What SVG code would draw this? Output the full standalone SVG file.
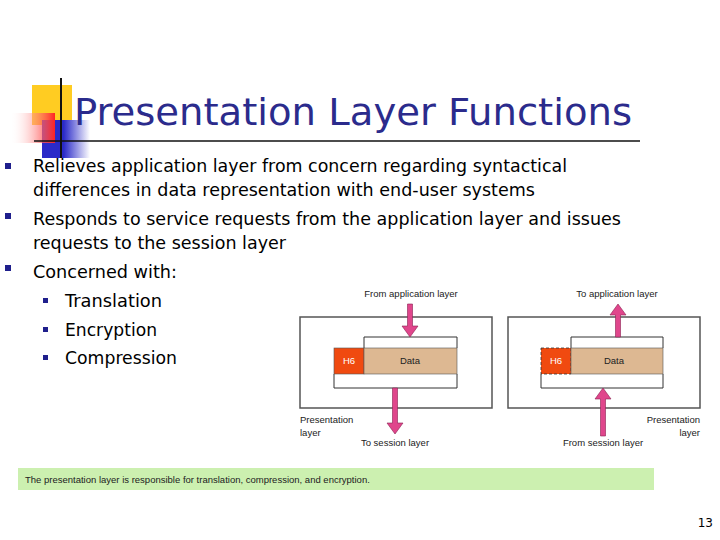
<svg xmlns="http://www.w3.org/2000/svg" width="720" height="540" viewBox="0 0 720 540">
<defs>
<linearGradient id="red" x1="0" x2="1"><stop offset="0" stop-color="#fff" stop-opacity="0"/><stop offset="1" stop-color="#f22"/></linearGradient>
<linearGradient id="blue" x1="0" x2="1"><stop offset="0" stop-color="#2a2ac8"/><stop offset="0.45" stop-color="#2a2ac8"/><stop offset="1" stop-color="#fff"/></linearGradient>
</defs>
<style>
.t{font-family:Tahoma,"DejaVu Sans",sans-serif;fill:#000}
.b{font-size:18px}
.s{font-family:"Liberation Sans Narrow","Liberation Sans",sans-serif;font-size:9.5px;fill:#222}
.box{fill:#fff;stroke:#555;stroke-width:1.5}
.br{fill:none;stroke:#333;stroke-width:1}
.arr{fill:#e0468c;stroke:#8a2050;stroke-width:0.6}
.bul{fill:#1f1f8c}
</style>
<rect width="720" height="540" fill="#fff"/>
<g id="logo">
<rect x="32" y="85" width="40" height="40" fill="#ffcc22"/>
<rect x="42" y="120" width="48" height="38" fill="url(#blue)"/>
<rect x="10" y="113" width="45" height="30" fill="url(#red)"/>
<line x1="61" y1="78" x2="61" y2="158" stroke="#111" stroke-width="2"/>
<line x1="34" y1="141" x2="640" y2="141" stroke="#111" stroke-width="1.5"/>
</g>
<text class="t" x="74" y="125" font-size="38" textLength="558" lengthAdjust="spacingAndGlyphs" style="fill:#2b2b8c">Presentation Layer Functions</text>
<g id="bullets">
<rect class="bul" x="5" y="163" width="6" height="6"/>
<rect class="bul" x="5" y="213" width="6" height="6"/>
<rect class="bul" x="5" y="265" width="6" height="6"/>
<rect class="bul" x="43" y="298" width="5" height="5"/>
<rect class="bul" x="43" y="327" width="5" height="5"/>
<rect class="bul" x="43" y="355" width="5" height="5"/>
<text class="t b" x="33" y="172" textLength="534" lengthAdjust="spacingAndGlyphs">Relieves application layer from concern regarding syntactical</text>
<text class="t b" x="33" y="196" textLength="502" lengthAdjust="spacingAndGlyphs">differences in data representation with end-user systems</text>
<text class="t b" x="33" y="225" textLength="588" lengthAdjust="spacingAndGlyphs">Responds to service requests from the application layer and issues</text>
<text class="t b" x="33" y="249" textLength="253" lengthAdjust="spacingAndGlyphs">requests to the session layer</text>
<text class="t b" x="33" y="278" textLength="144" lengthAdjust="spacingAndGlyphs">Concerned with:</text>
<text class="t b" x="65" y="307" textLength="97" lengthAdjust="spacingAndGlyphs">Translation</text>
<text class="t b" x="65" y="336" textLength="92" lengthAdjust="spacingAndGlyphs">Encryption</text>
<text class="t b" x="65" y="364" textLength="112" lengthAdjust="spacingAndGlyphs">Compression</text>
</g>
<g id="left-panel">
<rect class="box" x="300" y="317" width="192" height="91"/>
<path class="br" d="M364 348V337H457V348M334 374V388H457V374"/>
<rect x="334" y="348" width="30" height="26" fill="#f04a10" stroke="#555" stroke-width="0.6"/>
<rect x="364" y="348" width="93" height="26" fill="#ddb892" stroke="#555" stroke-width="0.6"/>
<text class="s" x="349" y="364" text-anchor="middle" style="fill:#fff">H6</text>
<text class="s" x="410" y="364" text-anchor="middle">Data</text>
<text class="s" x="411" y="297" text-anchor="middle">From application layer</text>
<text class="s" x="300" y="423">Presentation</text>
<text class="s" x="300" y="436">layer</text>
<text class="s" x="395" y="446" text-anchor="middle">To session layer</text>
</g>
<g id="right-panel">
<rect class="box" x="508" y="317" width="192" height="91"/>
<path class="br" d="M571 348V337H663V348M541 374V388H663V374"/>
<rect x="541" y="348" width="30" height="26" fill="#f04a10" stroke="#333" stroke-width="0.8" stroke-dasharray="3,2"/>
<rect x="571" y="348" width="92" height="26" fill="#ddb892" stroke="#555" stroke-width="0.6"/>
<text class="s" x="556" y="364" text-anchor="middle" style="fill:#fff">H6</text>
<text class="s" x="614" y="364" text-anchor="middle">Data</text>
<text class="s" x="617" y="297" text-anchor="middle">To application layer</text>
<text class="s" x="700" y="423" text-anchor="end">Presentation</text>
<text class="s" x="700" y="436" text-anchor="end">layer</text>
<text class="s" x="603" y="446" text-anchor="middle">From session layer</text>
</g>
<g id="connectors">
<path class="arr" d="M407.5 304H412.5V326H418L410 337L402 326H407.5Z"/>
<path class="arr" d="M392.5 388H397.5V423H403L395 434L387 423H392.5Z"/>
<path class="arr" d="M615.5 337H620.5V315H626L618 304L610 315H615.5Z"/>
<path class="arr" d="M600.5 436H605.5V399H611L603 388L595 399H600.5Z"/>
</g>
<rect x="18" y="468" width="636" height="22" fill="#ccf0b0"/>
<text class="s" x="25" y="483" font-size="11">The presentation layer is responsible for translation, compression, and encryption.</text>
<text class="t" x="713" y="527" font-size="12" text-anchor="end">13</text>
</svg>
